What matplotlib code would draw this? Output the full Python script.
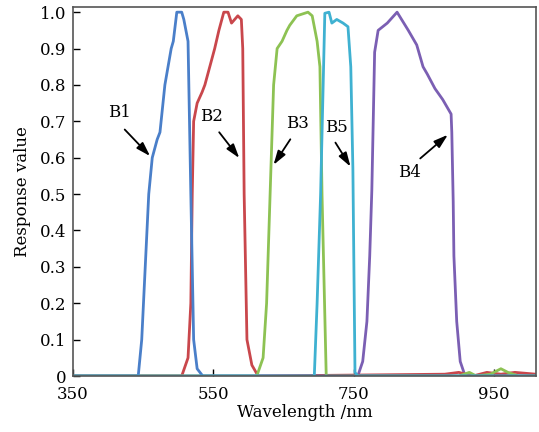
import matplotlib
matplotlib.use("Agg")
import matplotlib.pyplot as plt

# ---- data ----
b1_wl = [350, 440, 443, 448, 458, 463, 470, 474, 481, 490, 493, 498, 505, 508, 514, 518, 522, 527, 535, 1010]
b1_r  = [0, 0, 0.0, 0.1, 0.5, 0.6, 0.65, 0.67, 0.8, 0.9, 0.92, 1.0, 1.0, 0.98, 0.92, 0.5, 0.1, 0.02, 0, 0]

b2_wl = [350, 505, 514, 518, 520, 522, 527, 534, 538, 545, 552, 558, 565, 571, 576, 585, 590, 592, 594, 598, 605, 614, 880, 900, 920, 940, 960, 980, 1010]
b2_r  = [0, 0, 0.05, 0.2, 0.5, 0.7, 0.75, 0.78, 0.8, 0.85, 0.9, 0.95, 1.0, 1.0, 0.97, 0.99, 0.98, 0.9, 0.5, 0.1, 0.03, 0, 0.005, 0.01, 0.0, 0.01, 0.005, 0.01, 0.005]

b3_wl = [350, 612, 621, 626, 631, 636, 641, 648, 655, 659, 669, 685, 691, 698, 702, 705, 711, 900, 915, 925, 945, 960, 970, 985, 1010]
b3_r  = [0, 0, 0.05, 0.2, 0.5, 0.8, 0.9, 0.92, 0.95, 0.964, 0.99, 1.0, 0.99, 0.92, 0.85, 0.5, 0, 0, 0.01, 0, 0.005, 0.02, 0.01, 0, 0]

b5_wl = [350, 694, 698, 703, 709, 715, 719, 726, 735, 742, 746, 749, 752, 756, 1010]
b5_r  = [0, 0, 0.2, 0.5, 0.997, 1.0, 0.97, 0.98, 0.97, 0.96, 0.85, 0.57, 0.01, 0, 0]

b4_wl = [350, 756, 763, 769, 773, 776, 780, 785, 798, 812, 828, 840, 849, 855, 866, 877, 889, 890, 892, 893, 897, 902, 909, 1010]
b4_r  = [0, 0, 0.04, 0.15, 0.33, 0.51, 0.89, 0.95, 0.97, 1.0, 0.95, 0.91, 0.85, 0.83, 0.79, 0.76, 0.72, 0.67, 0.48, 0.33, 0.15, 0.04, 0, 0]

x_ticks = [350, 550, 750, 950]
y_ticks = [0, 0.1, 0.2, 0.3, 0.4, 0.5, 0.6, 0.7, 0.8, 0.9, 1.0]
y_tick_labels = ["0", "0.1", "0.2", "0.3", "0.4", "0.5", "0.6", "0.7", "0.8", "0.9", "1.0"]

labels = ["B1", "B2", "B3", "B5", "B4"]
label_xy = [(417, 0.723), (548, 0.712), (670, 0.695), (725, 0.684), (830, 0.56)]
arrow_tail = [(421, 0.683), (556, 0.676), (662, 0.657), (722, 0.648), (842, 0.593)]
arrow_head = [(462.6, 0.599), (589.5, 0.593), (633.7, 0.574), (747.7, 0.569), (887.4, 0.668)]

plt.rcParams['font.family'] = ['DejaVu Serif']

fig = plt.figure(figsize=(5.39, 4.32), dpi=100)
ax = fig.add_axes([0.1354, 0.1296, 0.859, 0.854])

lw = 2.0
ax.plot(b4_wl, b4_r, color="#7b5fb3", lw=lw)
ax.plot(b2_wl, b2_r, color="#c9474c", lw=lw)
ax.plot(b3_wl, b3_r, color="#8dc253", lw=lw)
ax.plot(b1_wl, b1_r, color="#4a7fc9", lw=lw)
ax.plot(b5_wl, b5_r, color="#3fb1d1", lw=lw)

for lab, (tx, ty), (ax0, ay0), (hx, hy) in zip(labels, label_xy, arrow_tail, arrow_head):
    ax.text(tx, ty, lab, ha="center", va="center", fontsize=12)
    ax.annotate("", xy=(hx, hy), xytext=(ax0, ay0),
                arrowprops=dict(arrowstyle="-|>,head_length=0.7,head_width=0.22",
                                color="black", lw=1.3, mutation_scale=12))

ax.set_xlim(350, 1010)
ax.set_ylim(0, 1.014)
ax.set_xticks(x_ticks)
ax.set_xticklabels([str(v) for v in x_ticks], fontsize=12)
ax.set_yticks(y_ticks)
ax.set_yticklabels(y_tick_labels, fontsize=12)
ax.tick_params(direction="in", length=5, width=1, colors="black")
ax.tick_params(axis="x", pad=7)
ax.tick_params(axis="y", pad=5)
for s in ax.spines.values():
    s.set_color("#555555")
    s.set_linewidth(1.2)
ax.set_xlabel("Wavelength /nm", fontsize=12, labelpad=1)
ax.set_ylabel("Response value", fontsize=12, labelpad=6)

fig.savefig("out.png", dpi=100)
